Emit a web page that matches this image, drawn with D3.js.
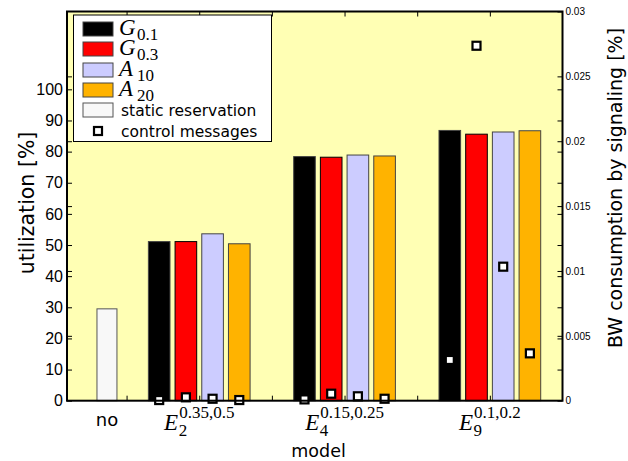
<!DOCTYPE html>
<html>
<head>
<meta charset="utf-8">
<script src="https://cdn.jsdelivr.net/npm/d3@7"></script>
<style>
  html, body { margin: 0; padding: 0; background: #ffffff; }
  svg { display: block; }
</style>
</head>
<body>
<svg id="chart" width="628" height="461"></svg>
<script>
// ---- data ----------------------------------------------------------------
const models = ["E2", "E4", "E9"];
const modelBase = ["E", "E", "E"];
const modelSub = ["2", "4", "9"];
const modelSup = ["0.35,0.5", "0.15,0.25", "0.1,0.2"];
const series = ["G0.1", "G0.3", "A10", "A20"];
const seriesBase = ["G", "G", "A", "A"];
const seriesSub = ["0.1", "0.3", "10", "20"];
const staticLabel = "no";
const staticUtilization = 29.5;
// utilization [%] per model (rows) and series (columns)
const utilization = [
  [51.1, 51.1, 53.6, 50.4],
  [78.4, 78.2, 78.9, 78.6],
  [86.8, 85.6, 86.3, 86.7]
];
// BW consumption by signaling [%], same layout
const signaling = [
  [0.00005, 0.00026, 0.00015, 0.00005],
  [0.0001, 0.00054, 0.00034, 0.00015],
  [0.00314, 0.02736, 0.01033, 0.00365]
];
const leftTicks = [0, 10, 20, 30, 40, 50, 60, 70, 80, 90, 100];
const rightTicks = [0, 0.005, 0.01, 0.015, 0.02, 0.025, 0.03];
const xTicks = [1, 2, 3, 4, 5, 6];

// ---- layout ----------------------------------------------------------------
const svg = d3.select("#chart");
const L = 67, R = 562.5, T = 11.5, B = 400.7;
const colors = ["#000000", "#ff0000", "#ccccff", "#ffb300"];
const staticColor = "#f8f8f8";
const bg = "#ffffb4";
const sans = "'DejaVu Sans', sans-serif";
const tickFont = "'Liberation Sans', Arial, sans-serif";
const serif = "'Liberation Serif', 'Times New Roman', serif";

const x = d3.scaleLinear().domain([0.18, 7]).range([L, R]);
const y = d3.scaleLinear().domain([0, 125]).range([B, T]);
const y2 = d3.scaleLinear().domain([0, 0.03]).range([B, T]);

// category positions on the x axis
const staticPos = 0.73, staticWidth = 0.275;
const groupPos = [2, 4, 6];
const groupHalf = 0.7;

svg.append("rect").attr("x", L).attr("y", T).attr("width", R - L).attr("height", B - T)
  .attr("fill", bg);

// static reservation bar
svg.append("rect")
  .attr("x", x(staticPos - staticWidth / 2))
  .attr("y", y(staticUtilization))
  .attr("width", x(staticPos + staticWidth / 2) - x(staticPos - staticWidth / 2))
  .attr("height", y(0) - y(staticUtilization))
  .attr("fill", staticColor).attr("stroke", "#555").attr("stroke-width", 1);

// grouped bars with the signalling markers on top
const groups = svg.append("g");
models.forEach((m, i) => {
  const band = d3.scaleBand().domain(series)
    .range([x(groupPos[i] - groupHalf), x(groupPos[i] + groupHalf)])
    .paddingInner(0.19).paddingOuter(0);
  const g = groups.append("g");
  g.selectAll("rect").data(utilization[i]).join("rect")
    .attr("x", (d, j) => band(series[j]))
    .attr("y", d => y(d))
    .attr("width", band.bandwidth())
    .attr("height", d => y(0) - y(d))
    .attr("fill", (d, j) => colors[j])
    .attr("stroke", (d, j) => j === 1 ? "#000" : "#444")
    .attr("stroke-width", 1);
  g.selectAll("rect.msg").data(signaling[i]).join("rect")
    .attr("class", "msg")
    .attr("x", (d, j) => band(series[j]) + band.bandwidth() / 2 - 4)
    .attr("y", d => y2(d) - 4)
    .attr("width", 8).attr("height", 8)
    .attr("fill", "#fff").attr("stroke", "#000").attr("stroke-width", 2.2);
});

// ---- axes ------------------------------------------------------------------
const axisStyle = sel => {
  sel.select(".domain").remove();
  sel.selectAll(".tick line").attr("stroke", "#000").attr("stroke-width", 1);
};
// left axis with labels
svg.append("g").attr("transform", `translate(${L},0)`)
  .call(d3.axisLeft(y).tickValues(leftTicks).tickSize(-5).tickPadding(4))
  .call(axisStyle)
  .selectAll("text").attr("font-family", tickFont).attr("font-size", 16).attr("fill", "#000");
// right-axis ticks mirrored on the left side
svg.append("g").attr("transform", `translate(${L},0)`)
  .call(d3.axisLeft(y2).tickValues(rightTicks.slice(1, -1)).tickSize(-5).tickFormat(""))
  .call(axisStyle);
// right axis with labels
svg.append("g").attr("transform", `translate(${R},0)`)
  .call(d3.axisRight(y2).tickValues(rightTicks).tickSize(-5).tickPadding(3)
    .tickFormat(d => d === 0 ? "0" : String(+d.toFixed(3))))
  .call(axisStyle)
  .selectAll("text").attr("font-family", tickFont).attr("font-size", 10).attr("fill", "#000");
// left-axis ticks mirrored on the right side
svg.append("g").attr("transform", `translate(${R},0)`)
  .call(d3.axisRight(y).tickValues(leftTicks.slice(1)).tickSize(-5).tickFormat(""))
  .call(axisStyle);
// x ticks, bottom and top
svg.append("g").attr("transform", `translate(0,${B})`)
  .call(d3.axisBottom(x).tickValues(xTicks).tickSize(-5).tickFormat(""))
  .call(axisStyle);
svg.append("g").attr("transform", `translate(0,${T})`)
  .call(d3.axisTop(x).tickValues(xTicks).tickSize(-5).tickFormat(""))
  .call(axisStyle);

// frame
svg.append("rect").attr("x", L).attr("y", T).attr("width", R - L).attr("height", B - T)
  .attr("fill", "none").attr("stroke", "#000").attr("stroke-width", 2);

// ---- category labels -------------------------------------------------------
svg.append("text").attr("x", x(staticPos)).attr("y", 426)
  .attr("text-anchor", "middle").attr("font-family", sans).attr("font-size", 18)
  .attr("fill", "#000").text(staticLabel);

models.forEach((m, i) => {
  const g = svg.append("g");
  const e = g.append("text").attr("x", 0).attr("y", 430)
    .attr("font-family", serif).attr("font-style", "italic").attr("font-size", 23)
    .attr("fill", "#000").text(modelBase[i]);
  const ew = e.node().getComputedTextLength();
  g.append("text").attr("x", ew + 0.5).attr("y", 436)
    .attr("font-family", serif).attr("font-size", 17).attr("fill", "#000").text(modelSub[i]);
  const sup = g.append("text").attr("x", ew + 1).attr("y", 418)
    .attr("font-family", serif).attr("font-size", 17).attr("fill", "#000").text(modelSup[i]);
  const w = ew + 1 + sup.node().getComputedTextLength();
  g.attr("transform", `translate(${x(groupPos[i]) - w / 2},0)`);
});

// axis titles
svg.append("text").attr("x", x(4) - 26).attr("y", 456.5)
  .attr("text-anchor", "middle").attr("font-family", sans).attr("font-size", 17.5)
  .attr("fill", "#000").text("model");
svg.append("text").attr("transform", "translate(34,203) rotate(-90)")
  .attr("text-anchor", "middle").attr("font-family", sans).attr("font-size", 20.5)
  .attr("fill", "#000").text("utilization [%]");
svg.append("text").attr("transform", "translate(622,188) rotate(-90)")
  .attr("text-anchor", "middle").attr("font-family", sans).attr("font-size", 19)
  .attr("fill", "#000").text("BW consumption by signaling [%]");

// ---- legend ----------------------------------------------------------------
const lg = svg.append("g");
lg.append("rect").attr("x", 73.5).attr("y", 15).attr("width", 198).attr("height", 126.5)
  .attr("fill", "#fff").attr("stroke", "#000").attr("stroke-width", 1);
const rowY = [29, 49, 70, 90, 110, 131];
series.forEach((s, j) => {
  lg.append("rect").attr("x", 83).attr("y", rowY[j] - 7).attr("width", 30).attr("height", 14)
    .attr("fill", colors[j]).attr("stroke", "#444").attr("stroke-width", 1);
  const base = lg.append("text").attr("x", 119).attr("y", rowY[j] + 6)
    .attr("font-family", serif).attr("font-style", "italic").attr("font-size", 23)
    .attr("fill", "#000").text(seriesBase[j]);
  const bw = base.node().getBBox().width;
  lg.append("text").attr("x", 119 + bw + 1).attr("y", rowY[j] + 11)
    .attr("font-family", serif).attr("font-size", 17).attr("fill", "#000").text(seriesSub[j]);
});
lg.append("rect").attr("x", 83).attr("y", rowY[4] - 7).attr("width", 30).attr("height", 14)
  .attr("fill", staticColor).attr("stroke", "#555").attr("stroke-width", 1);
lg.append("text").attr("x", 121).attr("y", rowY[4] + 6)
  .attr("font-family", sans).attr("font-size", 15.5).attr("fill", "#000")
  .text("static reservation");
lg.append("rect").attr("x", 94).attr("y", rowY[5] - 4).attr("width", 8).attr("height", 8)
  .attr("fill", "#fff").attr("stroke", "#000").attr("stroke-width", 2.2);
lg.append("text").attr("x", 121).attr("y", rowY[5] + 6)
  .attr("font-family", sans).attr("font-size", 15.5).attr("fill", "#000")
  .text("control messages");
</script>
</body>
</html>
